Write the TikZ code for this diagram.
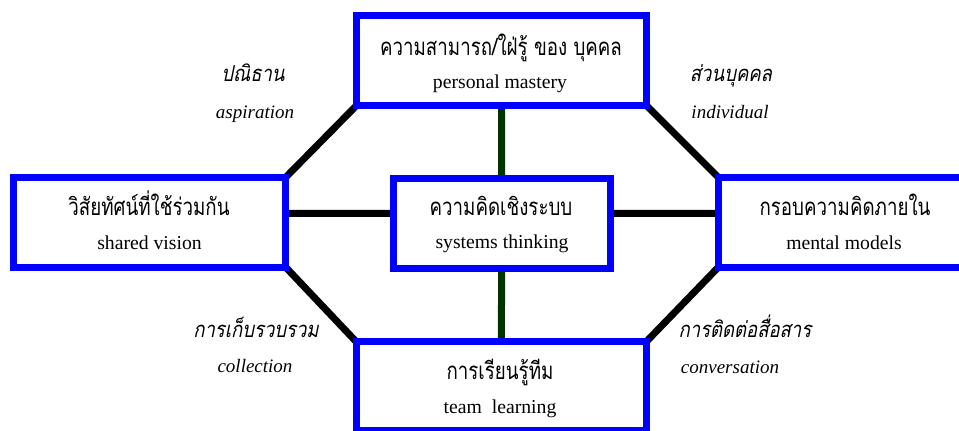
\documentclass[tikz,border=0pt]{standalone}
\usepackage{fontspec}
\setmainfont{Liberation Serif}
\newfontfamily\thaifont[Script=Thai,FakeStretch=0.78]{Loma}
\newfontfamily\thaislant[Script=Thai,FakeSlant=0.2,FakeStretch=0.84]{Loma}
\usetikzlibrary{backgrounds}
\definecolor{spinegreen}{RGB}{0,51,0}

\begin{document}
\begin{tikzpicture}[x=1pt,y=-1pt,
  box/.style={draw=blue, line width=7pt, fill=white, rectangle, inner sep=0pt, outer sep=0pt},
  link/.style={line width=7pt, draw=black},
  spine/.style={line width=7pt, draw=spinegreen},
  thtext/.style={font=\thaifont\fontsize{24}{28}\selectfont, anchor=base, inner sep=0pt},
  entext/.style={font=\fontsize{19.7}{23}\selectfont, anchor=base, inner sep=0pt},
  thlabel/.style={font=\thaislant\fontsize{22}{26}\selectfont, anchor=base, inner sep=0pt, text depth=1pt},
  enlabel/.style={font=\itshape\fontsize{19}{23}\selectfont, anchor=base, inner sep=0pt}]

\useasboundingbox (0,0) rectangle (959,431);

% the five disciplines
\node[box, minimum width=290pt, minimum height=90pt]   (mastery)  at (501.5,60.5) {};
\node[box, minimum width=272pt, minimum height=89.5pt] (vision)   at (149.5,222.25) {};
\node[box, minimum width=216.5pt, minimum height=90pt] (systems)  at (501.75,223) {};
\node[box, minimum width=272pt, minimum height=89.5pt] (models)   at (854.5,222.25) {};
\node[box, minimum width=290.5pt, minimum height=89pt] (learning) at (501.25,386) {};

% box captions
\node[thtext] (masteryth)  at (501,55)  {ความสามารถ/ใฝ่รู้ ของ บุคคล};
\node[entext] (masteryen)  at (500,88)  {personal mastery};
\node[thtext] (visionth)   at (149,215) {วิสัยทัศน์ที่ใช้ร่วมกัน};
\node[entext] (visionen)   at (149.5,249) {shared vision};
\node[thtext] (systemsth)  at (501,215) {ความคิดเชิงระบบ};
\node[entext] (systemsen)  at (502,248) {systems thinking};
\node[thtext] (modelsth)   at (845,215) {กรอบความคิดภายใน};
\node[entext] (modelsen)   at (844,249) {mental models};
\node[thtext] (learningth) at (500,379) {การเรียนรู้ทีม};
\node[entext] (learningen) at (500,413) {team~~learning};

% edge labels
\node[thlabel] (aspth)  at (253,81)  {ปณิธาน};
\node[enlabel] (aspen)  at (255,118) {aspiration};
\node[thlabel] (indth)  at (731,81)  {ส่วนบุคคล};
\node[enlabel] (inden)  at (730,118) {individual};
\node[thlabel] (colth)  at (256,337) {การเก็บรวบรวม};
\node[enlabel] (colen)  at (255,372) {collection};
\node[thlabel] (conth)  at (745,337) {การติดต่อสื่อสาร};
\node[enlabel] (conen)  at (730,373) {conversation};

\begin{scope}[on background layer]
  \fill[white] (0,0) rectangle (959,431);
  % outer ring
  \draw[link] (mastery.south west) -- (vision.north east);
  \draw[link] (mastery.south east) -- (models.north west);
  \draw[link] (vision.south east)  -- (learning.north west);
  \draw[link] (models.south west)  -- (learning.north east);
  % spokes to the centre
  \draw[link] ([yshift=9pt]vision.east) -- ([yshift=9.5pt]systems.west);
  \draw[link] ([yshift=9.5pt]systems.east) -- ([yshift=9pt]models.west);
  \draw[spine] (mastery.south) -- (systems.north);
  \draw[spine] (systems.south) -- (learning.north);
\end{scope}
\end{tikzpicture}
\end{document}
